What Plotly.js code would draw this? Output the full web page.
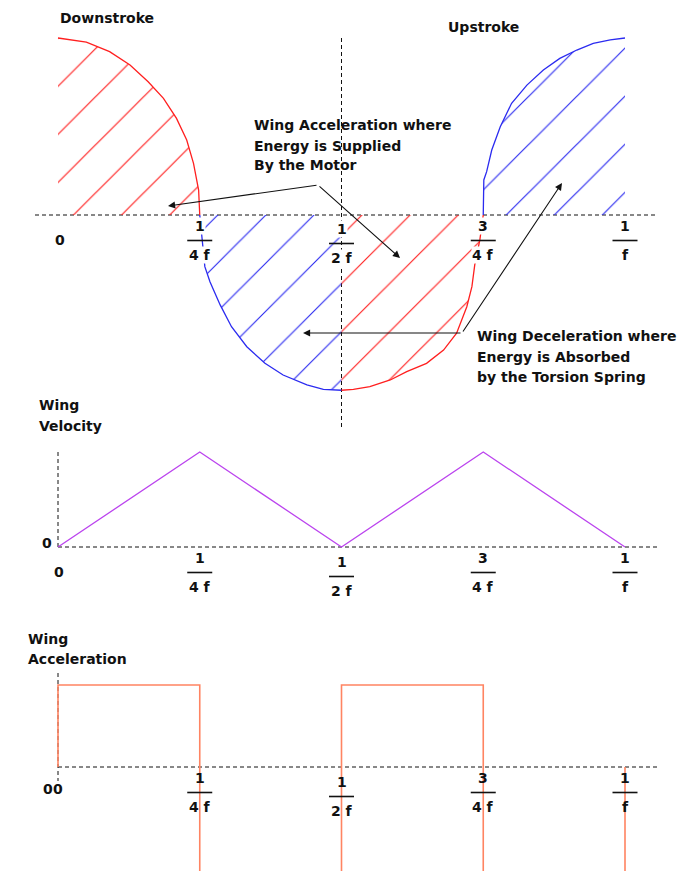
<!DOCTYPE html>
<html>
<head>
<meta charset="utf-8">
<script src="https://cdn.plot.ly/plotly-3.0.1.min.js"></script>
<style>
  html, body { margin: 0; padding: 0; background: #fff; }
  #chart { width: 685px; height: 871px; }
</style>
</head>
<body>
<div id="chart"></div>
<script>
// Time is measured in flapping periods (1/f); wing position is normalised to the stroke amplitude.

// Downstroke, accelerating half (0 .. 1/4f)
const accelDownT   = [0, 0.050, 0.091, 0.127, 0.159, 0.186, 0.209, 0.227, 0.239, 0.248, 0.250];
const accelDownPos = [1, 0.977, 0.923, 0.847, 0.753, 0.659, 0.546, 0.424, 0.292, 0.141, 0];
// Downstroke, decelerating half (1/4f .. 1/2f)
const decelDownT   = [0.25, 0.259, 0.268, 0.286, 0.306, 0.333, 0.365, 0.397, 0.439, 0.468, 0.5];
const decelDownPos = [0, -0.292, -0.377, -0.508, -0.631, -0.744, -0.838, -0.904, -0.960, -0.985, -0.99];
// Upstroke, accelerating half (1/2f .. 3/4f)
const accelUpT   = [0.5, 0.521, 0.550, 0.586, 0.615, 0.650, 0.680, 0.703, 0.721, 0.730, 0.735, 0.744, 0.75];
const accelUpPos = [-0.99, -0.985, -0.970, -0.932, -0.885, -0.838, -0.763, -0.668, -0.518, -0.405, -0.282, -0.141, 0];
// Upstroke, decelerating half (3/4f .. 1/f)
const decelUpT   = [0.75, 0.751, 0.756, 0.765, 0.780, 0.800, 0.827, 0.856, 0.885, 0.915, 0.944, 0.974, 1.0];
const decelUpPos = [0, 0.198, 0.245, 0.367, 0.499, 0.631, 0.734, 0.819, 0.885, 0.932, 0.970, 0.989, 1.0];

// Wing speed: rises linearly to a peak at each quarter period
const velocityT = [0, 0.25, 0.5, 0.75, 1];
const velocity  = [0, 1, 0, 1, 0];

// Wing acceleration: square wave (the negative level lies below the drawn area)
const accelerationT = [0, 0, 0.25, 0.25, 0.5, 0.5, 0.75, 0.75, 1, 1];
const acceleration  = [0, 1, 1, -1.5, -1.5, 1, 1, -1.5, -1.5, 0];

// Time axis labels, written as fractions
const tickVals = [0.25, 0.5, 0.75, 1];
const tickNum  = ['1', '1', '3', '1'];
const tickDen  = ['4 f', '2 f', '4 f', 'f'];

// ---------------------------------------------------------------------------
const W = 685, H = 871;
const RED = '#ff1f1f', BLUE = '#2b2bf0', PURPLE = '#bb44ee', ORANGE = '#ff8462';
const FONT = 'DejaVu Sans, Verdana, sans-serif';
const X0PX = 58, PERIOD_PX = 567;           // pixel of t = 0 and pixels per period
const xRange = [-X0PX / PERIOD_PX, (W - X0PX) / PERIOD_PX];
const pxT = px => (px - X0PX) / PERIOD_PX;   // horizontal pixel -> time
const px = v => v / W, py = v => 1 - v / H;  // pixel -> paper fraction

// Three stacked panels: pixel rows of the panel, its zero line and pixels per unit
const panels = {
  pos: { top: 0,   bottom: 432, zero: 215, unit: 177, ax: 'x',  ay: 'y'  },
  vel: { top: 432, bottom: 620, zero: 547, unit: 95,  ax: 'x2', ay: 'y2' },
  acc: { top: 620, bottom: 871, zero: 767, unit: 82,  ax: 'x3', ay: 'y3' }
};
const pyV = (p, row) => (p.zero - row) / p.unit;   // pixel row -> value in panel

function yAxis(p, anchor) {
  return {
    domain: [1 - p.bottom / H, 1 - p.top / H],
    range: [pyV(p, p.bottom), pyV(p, p.top)],
    visible: false, fixedrange: true, anchor: anchor
  };
}
function xAxis(anchor) {
  return { domain: [0, 1], range: xRange, visible: false, fixedrange: true, anchor: anchor };
}

function hatched(t, pos, color) {
  return {
    x: t, y: pos, xaxis: 'x', yaxis: 'y', type: 'scatter', mode: 'lines',
    line: { color: color, width: 1.3 },
    fill: 'tozeroy', fillcolor: 'rgba(0,0,0,0)',
    fillpattern: { shape: '/', size: 34, solidity: 0.035, fgcolor: color, bgcolor: 'rgba(0,0,0,0)' },
    hoverinfo: 'skip', showlegend: false
  };
}

const traces = [
  hatched(accelDownT, accelDownPos, RED),
  hatched(decelDownT, decelDownPos, BLUE),
  hatched(accelUpT, accelUpPos, RED),
  hatched(decelUpT, decelUpPos, BLUE),
  {
    x: velocityT, y: velocity, xaxis: 'x2', yaxis: 'y2', type: 'scatter', mode: 'lines',
    line: { color: PURPLE, width: 1.3 }, hoverinfo: 'skip', showlegend: false
  },
  {
    x: accelerationT, y: acceleration, xaxis: 'x3', yaxis: 'y3', type: 'scatter', mode: 'lines',
    line: { color: ORANGE, width: 1.6 }, hoverinfo: 'skip', showlegend: false
  }
];

// Dashed reference lines
const DASH = '4px,3px';
function dashed(p, x0, x1, y0, y1) {
  return {
    type: 'line', xref: p.ax, yref: p.ay, x0: x0, x1: x1, y0: y0, y1: y1,
    line: { color: '#111', width: 1, dash: DASH }, layer: 'below'
  };
}
const P = panels;
const shapes = [
  dashed(P.pos, pxT(35), pxT(655), 0, 0),
  dashed(P.pos, 0.5, 0.5, pyV(P.pos, 38), pyV(P.pos, 427)),
  dashed(P.vel, 0, pxT(660), 0, 0),
  dashed(P.vel, 0, 0, 0, pyV(P.vel, 450)),
  dashed(P.acc, 0, pxT(660), 0, 0),
  dashed(P.acc, 0, 0, pyV(P.acc, 673), pyV(P.acc, 781))
];

const annotations = [];
const tickFont = { family: FONT, size: 14, color: '#111', weight: 'bold' };

// Fraction labels under each time axis: numerator, bar, denominator
function fractionLabels(p, halfShift, opaque) {
  tickVals.forEach((t, i) => {
    const s = t === 0.5 ? halfShift : 0;
    const base = {
      xref: p.ax, yref: p.ay, x: t, y: 0, showarrow: false, font: tickFont,
      xanchor: 'center', yanchor: 'middle', borderpad: 0
    };
    if (opaque) base.bgcolor = '#fff';
    annotations.push(Object.assign({}, base, { text: tickNum[i], yshift: -(11 + s) }));
    annotations.push(Object.assign({}, base, { text: tickDen[i], yshift: -(40 + s) }));
    shapes.push({
      type: 'line', xref: p.ax, yref: p.ay,
      xsizemode: 'pixel', xanchor: t, x0: -12.5, x1: 12.5,
      ysizemode: 'pixel', yanchor: 0, y0: -(25.5 + s), y1: -(25.5 + s),
      line: { color: '#111', width: 1.6 }, layer: 'above'
    });
  });
}
fractionLabels(P.pos, 3, true);
fractionLabels(P.vel, 4, false);
fractionLabels(P.acc, 4, false);

// Zero labels
function zeroLabel(p, xshift, yshift) {
  annotations.push({
    xref: p.ax, yref: p.ay, x: 0, y: 0, text: '0', showarrow: false, font: tickFont,
    xanchor: 'center', yanchor: 'middle', xshift: xshift, yshift: yshift
  });
}
zeroLabel(P.pos, 2, -25);
zeroLabel(P.vel, -11, 4);
zeroLabel(P.vel, 1, -25);
zeroLabel(P.acc, -10, -22);
zeroLabel(P.acc, 0, -22);

// Captions
const capFont = { family: FONT, size: 14, color: '#111', weight: 'bold' };
function caption(text, left, row) {
  annotations.push({
    xref: 'paper', yref: 'paper', x: px(left), y: py(row), text: text, showarrow: false,
    xanchor: 'left', yanchor: 'middle', font: capFont
  });
}
caption('Downstroke', 58, 18);
caption('Upstroke', 446, 27);
caption('Wing Acceleration where', 252, 125);
caption('Energy is Supplied', 252, 146);
caption('By the Motor', 252, 165);
caption('Wing Deceleration where', 475, 336);
caption('Energy is Absorbed', 475, 357);
caption('by the Torsion Spring', 475, 377);
caption('Wing', 37, 405);
caption('Velocity', 37, 426);
caption('Wing', 26, 639);
caption('Acceleration', 26, 659);

// Pointer arrows from the two captions: [head x, head y, tail x, tail y] in pixels
const pointers = [
  [168, 206, 318, 185],
  [400, 258, 318, 185],
  [303, 333, 462, 333],
  [562, 183, 462, 333]
];
pointers.forEach(([hx, hy, tx, ty]) => {
  annotations.push({
    xref: 'paper', yref: 'paper', x: px(hx), y: py(hy), ax: tx - hx, ay: ty - hy,
    text: '', showarrow: true, arrowhead: 2, arrowsize: 1.3, arrowwidth: 1.1, arrowcolor: '#111'
  });
});

const layout = {
  width: W, height: H,
  margin: { l: 0, r: 0, t: 0, b: 0, pad: 0 },
  paper_bgcolor: '#fff', plot_bgcolor: 'rgba(0,0,0,0)',
  showlegend: false,
  xaxis: xAxis('y'), xaxis2: xAxis('y2'), xaxis3: xAxis('y3'),
  yaxis: yAxis(P.pos, 'x'), yaxis2: yAxis(P.vel, 'x2'), yaxis3: yAxis(P.acc, 'x3'),
  shapes: shapes,
  annotations: annotations
};

Plotly.newPlot('chart', traces, layout, { staticPlot: true, displayModeBar: false });
</script>
</body>
</html>
